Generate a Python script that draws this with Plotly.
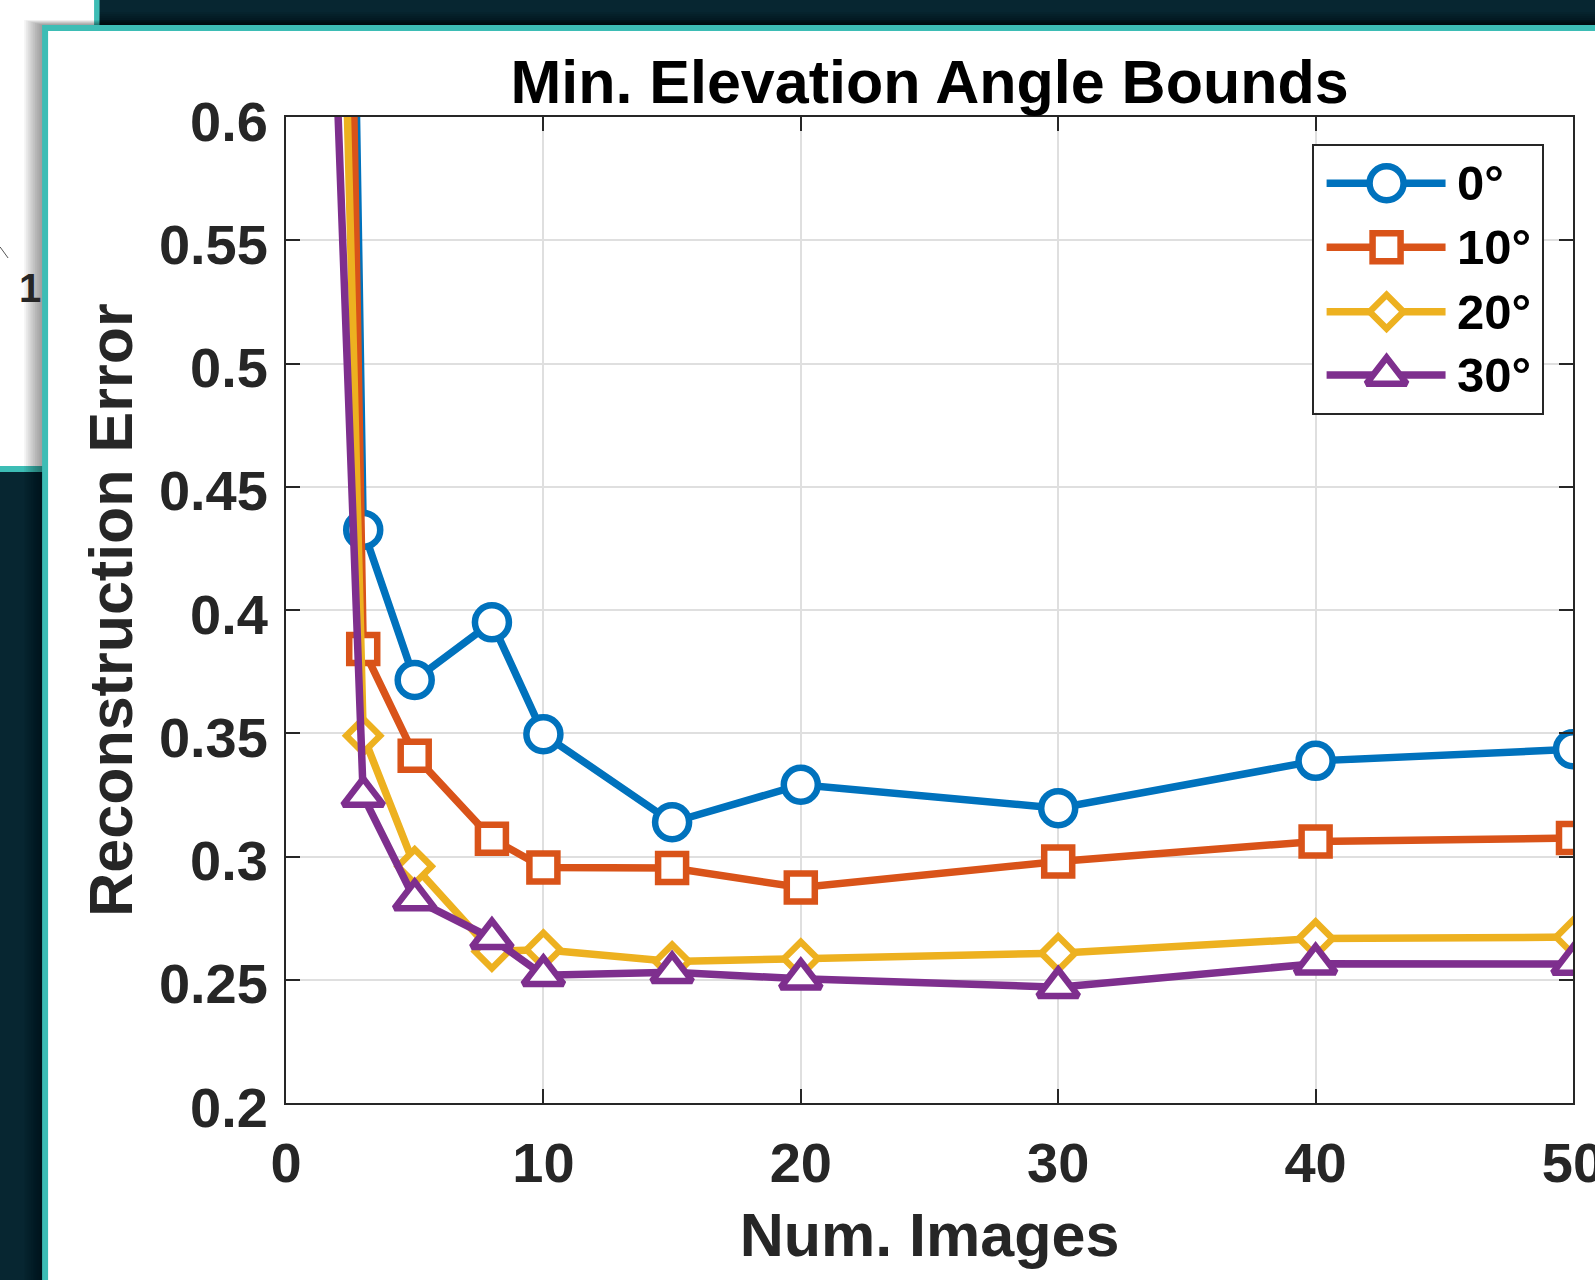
import plotly.graph_objects as go

# ---------------- data ----------------
num_images = [1, 3, 5, 8, 10, 15, 20, 30, 40, 50]
series_names = ["0°", "10°", "20°", "30°"]
err_0deg = [1.72, 0.4325, 0.3716, 0.3950, 0.3496, 0.3139, 0.3291, 0.3196, 0.3388, 0.3435]
err_10deg = [1.58, 0.3842, 0.3409, 0.3072, 0.2955, 0.2953, 0.2874, 0.2980, 0.3061, 0.3075]
err_20deg = [1.17, 0.3490, 0.2960, 0.2615, 0.2622, 0.2574, 0.2585, 0.2608, 0.2667, 0.2673]
err_30deg = [0.89, 0.3245, 0.2826, 0.2668, 0.2518, 0.2530, 0.2504, 0.2470, 0.2565, 0.2564]
x_tick_vals = [0, 10, 20, 30, 40, 50]
y_tick_vals = [0.2, 0.25, 0.3, 0.35, 0.4, 0.45, 0.5, 0.55, 0.6]
y_tick_text = ["0.2", "0.25", "0.3", "0.35", "0.4", "0.45", "0.5", "0.55", "0.6"]
series_values = [err_0deg, err_10deg, err_20deg, err_30deg]

# ---------------- style ----------------
colors = ["#0072BD", "#D95319", "#EDB120", "#7E2F8E"]
symbols = ["circle", "square", "diamond", "triangle-up"]
marker_sizes = [34, 28, 26, 35]
LW = 7.5
MLW = 6.5
FONT = "Liberation Sans, Arial, Helvetica, sans-serif"
AX = "#262626"
TEAL = "#3DBDB5"

W, H = 1595, 1280
ML, MR, MT, MB = 286, 21.5, 117, 177
PW = W - ML - MR
PH = H - MT - MB


def px(x):
    return (x - ML) / PW


def py(y):
    return (H - MB - y) / PH


def rect(x0, y0, x1, y1, color, layer="below"):
    return dict(type="rect", xref="paper", yref="paper", layer=layer,
                x0=px(x0), x1=px(x1), y0=py(y1), y1=py(y0),
                fillcolor=color, line=dict(width=0))


shapes = []
# back window (behind)
shapes.append(rect(-20, -20, 99.5, 472, TEAL))
shapes.append(rect(-20, -20, 94, 466, "white"))
shapes.append(dict(type="line", xref="paper", yref="paper", layer="below",
                   x0=px(0), y0=py(247), x1=px(8), y1=py(258),
                   line=dict(color="#555555", width=1)))
# darker top band near front window
for k in range(6):
    shapes.append(rect(99.5, 25 - 2 * k - 3, 1620, 25, "rgba(0,0,0,0.07)"))
# drop shadow of front window
for k in range(1, 11):
    shapes.append(rect(42 - 1.8 * k, 25 - 0.5 * k, 1620, 1300, "rgba(0,0,0,0.042)"))
# front window
shapes.append(rect(42, 25, 1620, 1300, TEAL))
shapes.append(rect(48, 31, 1620, 1300, "white"))

fig = go.Figure()

for name, vals, c, s, ms in zip(series_names, series_values, colors, symbols, marker_sizes):
    fig.add_trace(go.Scatter(
        x=num_images, y=vals, name=name, mode="lines+markers",
        line=dict(color=c, width=LW),
        marker=dict(symbol=s, size=ms, color="white", line=dict(color=c, width=MLW)),
        showlegend=False, xaxis="x", yaxis="y"))

# custom legend (MATLAB style long samples) in a small box subplot
LEG_X0, LEG_X1, LEG_Y0, LEG_Y1 = 1314.3, 1542.5, 146, 412.5
LBW, LBH = LEG_X1 - LEG_X0, LEG_Y1 - LEG_Y0
leg_rows = [37.3, 101.3, 165.7, 229.0]
leg_line = [12.7, 131.7]
leg_marker_x = 72.7
leg_text_x = 141

# opaque white legend background (hides the main grid lines)
fig.add_trace(go.Scatter(x=[0, LBW, LBW, 0, 0], y=[0, 0, LBH, LBH, 0], mode="lines",
                         fill="toself", fillcolor="white", line=dict(width=0),
                         xaxis="x2", yaxis="y2", showlegend=False, hoverinfo="skip"))
annotations = []
for name, row, c, s, ms in zip(series_names, leg_rows, colors, symbols, marker_sizes):
    fig.add_trace(go.Scatter(
        x=leg_line, y=[row, row], mode="lines", xaxis="x2", yaxis="y2",
        line=dict(color=c, width=LW), showlegend=False, hoverinfo="skip"))
    fig.add_trace(go.Scatter(
        x=[leg_marker_x], y=[row], mode="markers", xaxis="x2", yaxis="y2",
        marker=dict(symbol=s, size=ms, color="white", line=dict(color=c, width=MLW)),
        showlegend=False, hoverinfo="skip"))
    annotations.append(dict(xref="x2", yref="y2", x=leg_text_x, y=row, text=name,
                            xanchor="left", yanchor="middle", showarrow=False,
                            font=dict(family=FONT, size=49, color="black", weight="bold")))

annotations.append(dict(xref="paper", yref="paper", x=px(17), y=py(288), text="1",
                        xanchor="left", yanchor="middle", showarrow=False,
                        font=dict(family=FONT, size=40, color=AX, weight="bold")))

axis_common = dict(ticks="inside", ticklen=14, tickwidth=1.5, tickcolor=AX,
                   showline=True, linecolor=AX, linewidth=1.8, mirror="ticks",
                   showgrid=True, gridcolor="#dfdfdf", gridwidth=1.5, zeroline=False,
                   tickfont=dict(family=FONT, size=56, color=AX, weight="bold"),
                   ticklabeloverflow="allow", automargin=False)

fig.update_layout(
    width=W, height=H, autosize=False,
    margin=dict(l=ML, r=MR, t=MT, b=MB, pad=0),
    paper_bgcolor="#072631", plot_bgcolor="white",
    showlegend=False,
    title=dict(text="Min. Elevation Angle Bounds", x=0.5, xref="paper", xanchor="center",
               y=(H - 82) / H, yref="container", yanchor="middle",
               font=dict(family=FONT, size=61, color="black", weight="bold")),
    xaxis=dict(range=[0, 50], tickvals=x_tick_vals, ticklabelstandoff=10,
               title=dict(text="Num. Images", standoff=20,
                          font=dict(family=FONT, size=61, color=AX, weight="bold")),
               **axis_common),
    yaxis=dict(range=[0.2, 0.6], tickvals=y_tick_vals, ticktext=y_tick_text,
               ticklabelstandoff=5, ticklabelshift=4,
               title=dict(text="Reconstruction Error", standoff=7,
                          font=dict(family=FONT, size=61, color=AX, weight="bold")),
               **axis_common),
    xaxis2=dict(domain=[px(LEG_X0), px(LEG_X1)], range=[0, LBW], anchor="y2",
                showline=True, mirror=True, linecolor=AX, linewidth=1.5, showgrid=False,
                zeroline=False, showticklabels=False, ticks="", fixedrange=True),
    yaxis2=dict(domain=[py(LEG_Y1), py(LEG_Y0)], range=[LBH, 0], anchor="x2",
                showline=True, mirror=True, linecolor=AX, linewidth=1.5, showgrid=False,
                zeroline=False, showticklabels=False, ticks="", fixedrange=True),
    shapes=shapes,
    annotations=annotations,
)

fig.write_html("out.html", config={"displayModeBar": False}, post_script=(
    "document.body.style.margin='0';document.body.style.overflow='hidden';"
    "document.documentElement.style.overflow='hidden';"))
